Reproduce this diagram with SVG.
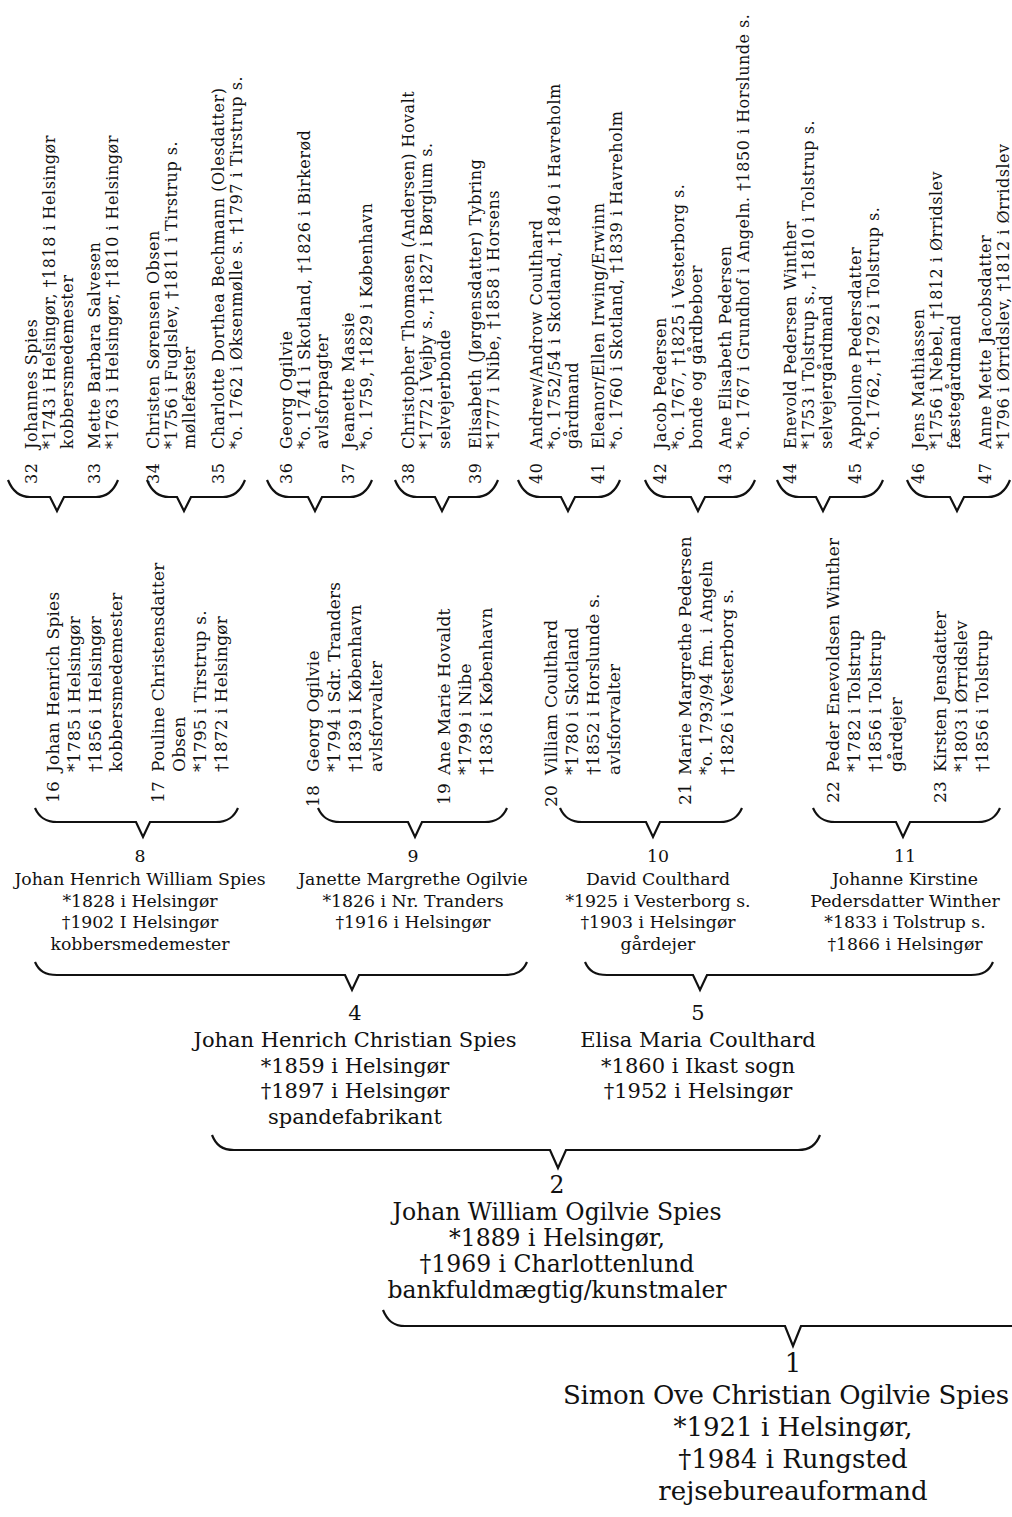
<svg xmlns="http://www.w3.org/2000/svg" width="1012" height="1517" viewBox="0 0 1012 1517">
<style>
text{font-family:"DejaVu Serif","Liberation Serif",serif;fill:#111}
.a{font-size:16px;letter-spacing:0.5px}
.b{font-size:17px;letter-spacing:0.2px}
.c{font-size:17.3px;text-anchor:middle}
.d{font-size:21px;text-anchor:middle}
.e{font-size:23.5px;text-anchor:middle}
.f{font-size:26px;text-anchor:middle}
.br{fill:none;stroke:#111;stroke-width:2.2;stroke-linejoin:miter}
</style>
<rect width="1012" height="1517" fill="#fff"/>
<g id="connectors">
<path class="br" d="M8,480 C12,490 18,497 30,497 L50,497 L57,511 L64,497 L96,497 C108,497 114,490 118,480"/>
<path class="br" d="M147,480 C151,490 157,497 169,497 L177,497 L184,511 L191,497 L223,497 C235,497 241,490 245,480"/>
<path class="br" d="M267,480 C271,490 277,497 289,497 L308,497 L315,511 L322,497 L350,497 C362,497 368,490 372,480"/>
<path class="br" d="M395,480 C399,490 405,497 417,497 L435,497 L442,511 L449,497 L476,497 C488,497 494,490 498,480"/>
<path class="br" d="M518,480 C522,490 528,497 540,497 L561,497 L568,511 L575,497 L598,497 C610,497 616,490 620,480"/>
<path class="br" d="M645,480 C649,490 655,497 667,497 L691,497 L698,511 L705,497 L733,497 C745,497 751,490 755,480"/>
<path class="br" d="M777,480 C781,490 787,497 799,497 L816,497 L823,511 L830,497 L861,497 C873,497 879,490 883,480"/>
<path class="br" d="M907,480 C911,490 917,497 929,497 L950,497 L957,511 L964,497 L988,497 C1000,497 1006,490 1010,480"/>
<path class="br" d="M35,808 C39,817 45,822 57,822 L136,822 L143,837 L150,822 L216,822 C228,822 234,817 238,808"/>
<path class="br" d="M318,808 C322,817 328,822 340,822 L408,822 L415,837 L422,822 L485,822 C497,822 503,817 507,808"/>
<path class="br" d="M560,808 C564,817 570,822 582,822 L646,822 L653,837 L660,822 L720,822 C732,822 738,817 742,808"/>
<path class="br" d="M813,808 C817,817 823,822 835,822 L896,822 L903,837 L910,822 L978,822 C990,822 996,817 1000,808"/>
<path class="br" d="M35,962 C39,971 45,975 57,975 L345,975 L352,990 L359,975 L505,975 C517,975 523,971 527,962"/>
<path class="br" d="M585,962 C589,971 595,975 607,975 L693,975 L700,990 L707,975 L971,975 C983,975 989,971 993,962"/>
<path class="br" d="M212,1135 C216,1145 222,1150 234,1150 L550,1150 L558,1168 L566,1150 L798,1150 C810,1150 816,1145 820,1135"/>
<path class="br" d="M383,1310 C387,1320 393,1326 405,1326 L785,1326 L793,1346 L801,1326 L1015,1326"/>
</g>
<g id="p32"><text class="a" transform="translate(37,484) rotate(-90)">32</text><text class="a" transform="translate(37,449) rotate(-90)"><tspan x="0" y="0">Johannes Spies</tspan><tspan x="0" y="18">*1743 i Helsingør, †1818 i Helsingør</tspan><tspan x="0" y="36">kobbersmedemester</tspan></text></g>
<g id="p33"><text class="a" transform="translate(100,484) rotate(-90)">33</text><text class="a" transform="translate(100,449) rotate(-90)"><tspan x="0" y="0">Mette Barbara Salvesen</tspan><tspan x="0" y="18">*1763 i Helsingør, †1810 i Helsingør</tspan></text></g>
<g id="p34"><text class="a" transform="translate(159,484) rotate(-90)">34</text><text class="a" transform="translate(159,449) rotate(-90)"><tspan x="0" y="0">Christen Sørensen Obsen</tspan><tspan x="0" y="18">*1756 i Fuglslev, †1811 i Tirstrup s.</tspan><tspan x="0" y="36">møllefæster</tspan></text></g>
<g id="p35"><text class="a" transform="translate(224,484) rotate(-90)">35</text><text class="a" transform="translate(224,449) rotate(-90)"><tspan x="0" y="0">Charlotte Dorthea Bechmann (Olesdatter)</tspan><tspan x="0" y="18">*o. 1762 i Øksenmølle s. †1797 i Tirstrup s.</tspan></text></g>
<g id="p36"><text class="a" transform="translate(292,484) rotate(-90)">36</text><text class="a" transform="translate(292,449) rotate(-90)"><tspan x="0" y="0">Georg Ogilvie</tspan><tspan x="0" y="18">*o. 1741 i Skotland, †1826 i Birkerød</tspan><tspan x="0" y="36">avlsforpagter</tspan></text></g>
<g id="p37"><text class="a" transform="translate(354,484) rotate(-90)">37</text><text class="a" transform="translate(354,449) rotate(-90)"><tspan x="0" y="0">Jeanette Massie</tspan><tspan x="0" y="18">*o. 1759, †1829 i København</tspan></text></g>
<g id="p38"><text class="a" transform="translate(414,484) rotate(-90)">38</text><text class="a" transform="translate(414,449) rotate(-90)"><tspan x="0" y="0">Christopher Thomasen (Andersen) Hovalt</tspan><tspan x="0" y="18">*1772 i Vejby s., †1827 i Børglum s.</tspan><tspan x="0" y="36">selvejerbonde</tspan></text></g>
<g id="p39"><text class="a" transform="translate(481,484) rotate(-90)">39</text><text class="a" transform="translate(481,449) rotate(-90)"><tspan x="0" y="0">Elisabeth (Jørgensdatter) Tybring</tspan><tspan x="0" y="18">*1777 i Nibe, †1858 i Horsens</tspan></text></g>
<g id="p40"><text class="a" transform="translate(542,484) rotate(-90)">40</text><text class="a" transform="translate(542,449) rotate(-90)"><tspan x="0" y="0">Andrew/Androw Coulthard</tspan><tspan x="0" y="18">*o. 1752/54 i Skotland, †1840 i Havreholm</tspan><tspan x="0" y="36">gårdmand</tspan></text></g>
<g id="p41"><text class="a" transform="translate(604,484) rotate(-90)">41</text><text class="a" transform="translate(604,449) rotate(-90)"><tspan x="0" y="0">Eleanor/Ellen Irwing/Erwinn</tspan><tspan x="0" y="18">*o. 1760 i Skotland, †1839 i Havreholm</tspan></text></g>
<g id="p42"><text class="a" transform="translate(666,484) rotate(-90)">42</text><text class="a" transform="translate(666,449) rotate(-90)"><tspan x="0" y="0">Jacob Pedersen</tspan><tspan x="0" y="18">*o. 1767, †1825 i Vesterborg s.</tspan><tspan x="0" y="36">bonde og gårdbeboer</tspan></text></g>
<g id="p43"><text class="a" transform="translate(731,484) rotate(-90)">43</text><text class="a" transform="translate(731,449) rotate(-90)"><tspan x="0" y="0">Ane Elisabeth Pedersen</tspan><tspan x="0" y="18">*o. 1767 i Grundhof i Angeln. †1850 i Horslunde s.</tspan></text></g>
<g id="p44"><text class="a" transform="translate(796,484) rotate(-90)">44</text><text class="a" transform="translate(796,449) rotate(-90)"><tspan x="0" y="0">Enevold Pedersen Winther</tspan><tspan x="0" y="18">*1753 i Tolstrup s., †1810 i Tolstrup s.</tspan><tspan x="0" y="36">selvejergårdmand</tspan></text></g>
<g id="p45"><text class="a" transform="translate(861,484) rotate(-90)">45</text><text class="a" transform="translate(861,449) rotate(-90)"><tspan x="0" y="0">Appollone Pedersdatter</tspan><tspan x="0" y="18">*o. 1762, †1792 i Tolstrup s.</tspan></text></g>
<g id="p46"><text class="a" transform="translate(924,484) rotate(-90)">46</text><text class="a" transform="translate(924,449) rotate(-90)"><tspan x="0" y="0">Jens Mathiassen</tspan><tspan x="0" y="18">*1756 i Nebel, †1812 i Ørridslev</tspan><tspan x="0" y="36">fæstegårdmand</tspan></text></g>
<g id="p47"><text class="a" transform="translate(991,484) rotate(-90)">47</text><text class="a" transform="translate(991,449) rotate(-90)"><tspan x="0" y="0">Anne Mette Jacobsdatter</tspan><tspan x="0" y="18">*1796 i Ørridslev, †1812 i Ørridslev</tspan></text></g>
<g id="p16"><text class="b" transform="translate(59,803) rotate(-90)">16</text><text class="b" transform="translate(59,772) rotate(-90)"><tspan x="0" y="0">Johan Henrich Spies</tspan><tspan x="0" y="21">*1785 i Helsingør</tspan><tspan x="0" y="42">†1856 i Helsingør</tspan><tspan x="0" y="63">kobbersmedemester</tspan></text></g>
<g id="p17"><text class="b" transform="translate(164,803) rotate(-90)">17</text><text class="b" transform="translate(164,772) rotate(-90)"><tspan x="0" y="0">Pouline Christensdatter</tspan><tspan x="0" y="21">Obsen</tspan><tspan x="0" y="42">*1795 i Tirstrup s.</tspan><tspan x="0" y="63">†1872 i Helsingør</tspan></text></g>
<g id="p18"><text class="b" transform="translate(319,807) rotate(-90)">18</text><text class="b" transform="translate(319,772) rotate(-90)"><tspan x="0" y="0">Georg Ogilvie</tspan><tspan x="0" y="21">*1794 i Sdr. Tranders</tspan><tspan x="0" y="42">†1839 i København</tspan><tspan x="0" y="63">avlsforvalter</tspan></text></g>
<g id="p19"><text class="b" transform="translate(450,805) rotate(-90)">19</text><text class="b" transform="translate(450,775) rotate(-90)"><tspan x="0" y="0">Ane Marie Hovaldt</tspan><tspan x="0" y="21">*1799 i Nibe</tspan><tspan x="0" y="42">†1836 i København</tspan></text></g>
<g id="p20"><text class="b" transform="translate(557,807) rotate(-90)">20</text><text class="b" transform="translate(557,775) rotate(-90)"><tspan x="0" y="0">Villiam Coulthard</tspan><tspan x="0" y="21">*1780 i Skotland</tspan><tspan x="0" y="42">†1852 i Horslunde s.</tspan><tspan x="0" y="63">avlsforvalter</tspan></text></g>
<g id="p21"><text class="b" transform="translate(691,805) rotate(-90)">21</text><text class="b" transform="translate(691,775) rotate(-90)"><tspan x="0" y="0">Marie Margrethe Pedersen</tspan><tspan x="0" y="21">*o. 1793/94 fm. i Angeln</tspan><tspan x="0" y="42">†1826 i Vesterborg s.</tspan></text></g>
<g id="p22"><text class="b" transform="translate(839,803) rotate(-90)">22</text><text class="b" transform="translate(839,772) rotate(-90)"><tspan x="0" y="0">Peder Enevoldsen Winther</tspan><tspan x="0" y="21">*1782 i Tolstrup</tspan><tspan x="0" y="42">†1856 i Tolstrup</tspan><tspan x="0" y="63">gårdejer</tspan></text></g>
<g id="p23"><text class="b" transform="translate(946,803) rotate(-90)">23</text><text class="b" transform="translate(946,772) rotate(-90)"><tspan x="0" y="0">Kirsten Jensdatter</tspan><tspan x="0" y="21">*1803 i Ørridslev</tspan><tspan x="0" y="42">†1856 i Tolstrup</tspan></text></g>
<g id="p8"><text class="c"><tspan x="140" y="862">8</tspan><tspan x="140" y="885">Johan Henrich William Spies</tspan><tspan x="140" y="907">*1828 i Helsingør</tspan><tspan x="140" y="928">†1902 I Helsingør</tspan><tspan x="140" y="950">kobbersmedemester</tspan></text></g>
<g id="p9"><text class="c"><tspan x="413" y="862">9</tspan><tspan x="413" y="885">Janette Margrethe Ogilvie</tspan><tspan x="413" y="907">*1826 i Nr. Tranders</tspan><tspan x="413" y="928">†1916 i Helsingør</tspan></text></g>
<g id="p10"><text class="c"><tspan x="658" y="862">10</tspan><tspan x="658" y="885">David Coulthard</tspan><tspan x="658" y="907">*1925 i Vesterborg s.</tspan><tspan x="658" y="928">†1903 i Helsingør</tspan><tspan x="658" y="950">gårdejer</tspan></text></g>
<g id="p11"><text class="c"><tspan x="905" y="862">11</tspan><tspan x="905" y="885">Johanne Kirstine</tspan><tspan x="905" y="907">Pedersdatter Winther</tspan><tspan x="905" y="928">*1833 i Tolstrup s.</tspan><tspan x="905" y="950">†1866 i Helsingør</tspan></text></g>
<g id="p4"><text class="d"><tspan x="355" y="1020">4</tspan><tspan x="355" y="1047">Johan Henrich Christian Spies</tspan><tspan x="355" y="1073">*1859 i Helsingør</tspan><tspan x="355" y="1098">†1897 i Helsingør</tspan><tspan x="355" y="1124">spandefabrikant</tspan></text></g>
<g id="p5"><text class="d"><tspan x="698" y="1020">5</tspan><tspan x="698" y="1047">Elisa Maria Coulthard</tspan><tspan x="698" y="1073">*1860 i Ikast sogn</tspan><tspan x="698" y="1098">†1952 i Helsingør</tspan></text></g>
<g id="p2"><text class="e"><tspan x="557" y="1193">2</tspan><tspan x="557" y="1220">Johan William Ogilvie Spies</tspan><tspan x="557" y="1246">*1889 i Helsingør,</tspan><tspan x="557" y="1272">†1969 i Charlottenlund</tspan><tspan x="557" y="1298">bankfuldmægtig/kunstmaler</tspan></text></g>
<g id="p1"><text class="f"><tspan x="793" y="1372">1</tspan><tspan x="563" y="1404" text-anchor="start" textLength="446" lengthAdjust="spacing">Simon Ove Christian Ogilvie Spies</tspan><tspan x="793" y="1436">*1921 i Helsingør,</tspan><tspan x="793" y="1468">†1984 i Rungsted</tspan><tspan x="793" y="1500">rejsebureauformand</tspan></text></g>
</svg>
